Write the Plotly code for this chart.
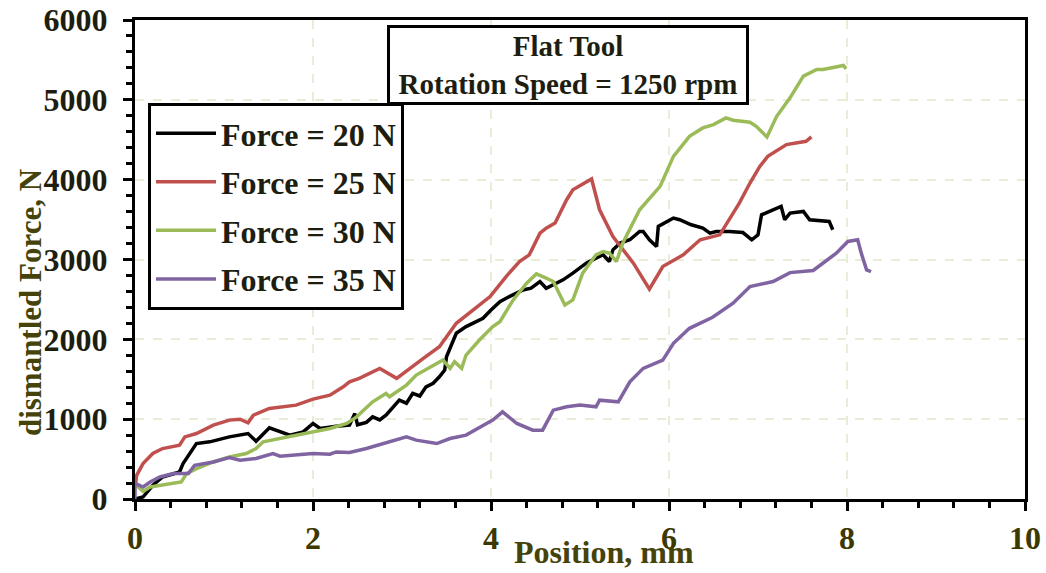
import plotly.graph_objects as go

# ---------------- data ----------------
x_20 = [0, 0.09, 0.2, 0.31, 0.5, 0.54, 0.69, 0.84, 1.06, 1.27, 1.36, 1.51, 1.74, 1.89, 2.0, 2.08,
        2.26, 2.41, 2.47, 2.50, 2.6, 2.67, 2.75, 2.82, 2.97, 3.05, 3.12, 3.20, 3.27, 3.35, 3.42, 3.48,
        3.50, 3.61, 3.72, 3.84, 3.91, 4.0, 4.10, 4.17, 4.25, 4.36, 4.45, 4.55, 4.62, 4.70, 4.81,
        4.92, 5.0, 5.07, 5.18, 5.26, 5.33, 5.37, 5.45, 5.56, 5.67, 5.71, 5.78, 5.86, 5.88, 5.98,
        6.05, 6.12, 6.25, 6.38, 6.46, 6.53, 6.68, 6.83, 6.93, 7.0, 7.04, 7.13, 7.26, 7.30, 7.36,
        7.51, 7.58, 7.80, 7.84]
f_20 = [0, 25, 172, 276, 339, 444, 695, 716, 778, 820, 724, 891, 800, 841, 946, 883,
        912, 925, 1070, 930, 960, 1029, 990, 1050, 1238, 1200, 1322, 1290, 1405, 1450, 1531, 1615,
        1782, 2076, 2159, 2221, 2264, 2368, 2472, 2515, 2556, 2619, 2640, 2724, 2640, 2682, 2745,
        2829, 2891, 2954, 3017, 3059, 2975, 3121, 3205, 3247, 3351, 3351, 3247, 3163, 3414, 3477,
        3519, 3498, 3435, 3393, 3330, 3351, 3351, 3338, 3247, 3309, 3560, 3602, 3665, 3498, 3581,
        3602, 3498, 3477, 3372]

x_25 = [0, 0.02, 0.09, 0.13, 0.2, 0.31, 0.5, 0.56, 0.69, 0.88, 1.06, 1.18, 1.27, 1.33, 1.51,
        1.81, 2.0, 2.19, 2.34, 2.41, 2.52, 2.75, 2.94, 3.24, 3.42, 3.61, 3.80, 3.99, 4.17, 4.32,
        4.43, 4.55, 4.62, 4.72, 4.85, 4.92, 5.13, 5.22, 5.37, 5.60, 5.78, 5.93, 6.16, 6.35, 6.57,
        6.79, 6.91, 7.02, 7.11, 7.32, 7.54, 7.60]
f_25 = [150, 300, 444, 486, 570, 632, 674, 778, 820, 925, 988, 1000, 954, 1050, 1134,
        1176, 1251, 1301, 1405, 1468, 1511, 1636, 1511, 1762, 1908, 2201, 2368, 2535, 2786, 2974,
        3058, 3330, 3393, 3456, 3749, 3874, 4008, 3623, 3288, 2954, 2628, 2912, 3058, 3247, 3309,
        3707, 3958, 4166, 4292, 4439, 4480, 4535]

x_30 = [0, 0.09, 0.17, 0.31, 0.52, 0.58, 0.69, 0.88, 1.06, 1.25, 1.36, 1.44, 1.63, 1.93, 2.19,
        2.38, 2.49, 2.67, 2.82, 2.86, 3.05, 3.16, 3.42, 3.46, 3.54, 3.59, 3.67, 3.72, 3.87, 4.02,
        4.10, 4.25, 4.40, 4.51, 4.62, 4.70, 4.83, 4.92, 5.03, 5.18, 5.26, 5.33, 5.41, 5.48, 5.67,
        5.90, 6.05, 6.23, 6.38, 6.50, 6.64, 6.72, 6.91, 6.98, 7.10, 7.21, 7.36, 7.51, 7.66, 7.73,
        7.96, 7.99]
f_30 = [190, 95, 150, 172, 213, 318, 381, 464, 527, 570, 632, 716, 758, 820, 883,
        946, 1029, 1217, 1322, 1280, 1427, 1552, 1719, 1741, 1636, 1719, 1636, 1803, 1991, 2159,
        2221, 2494, 2703, 2820, 2766, 2724, 2431, 2494, 2829, 3059, 3100, 3080, 2975, 3205, 3623,
        3916, 4292, 4543, 4648, 4690, 4774, 4744, 4719, 4669, 4535, 4794, 5025, 5296, 5380, 5380,
        5430, 5389]

x_35 = [0, 0.0, 0.09, 0.17, 0.28, 0.43, 0.6, 0.67, 0.88, 1.06, 1.18, 1.36, 1.55, 1.63, 2.0,
        2.19, 2.26, 2.41, 2.6, 2.79, 2.97, 3.05, 3.16, 3.39, 3.54, 3.72, 3.95, 4.02, 4.13, 4.29,
        4.47, 4.58, 4.70, 4.85, 5.0, 5.18, 5.22, 5.43, 5.56, 5.71, 5.93, 6.05, 6.23, 6.49, 6.72,
        6.91, 7.17, 7.36, 7.62, 7.73, 7.88, 8.01, 8.12, 8.16, 8.22, 8.27]
f_35 = [0, 197, 150, 213, 276, 318, 318, 423, 464, 520, 486, 507, 570, 536, 570,
        561, 590, 582, 632, 695, 758, 778, 737, 695, 758, 800, 946, 988, 1092, 946,
        862, 862, 1113, 1155, 1176, 1155, 1238, 1217, 1468, 1636, 1740, 1950, 2138, 2276, 2452,
        2661, 2724, 2836, 2862, 2954, 3080, 3226, 3247, 3080, 2870, 2849]

series_names = ["Force = 20 N", "Force = 25 N", "Force = 30 N", "Force = 35 N"]
series_colors = ["#000000", "#c0504d", "#9bbb59", "#8064a2"]
series_x = [x_20, x_25, x_30, x_35]
series_y = [f_20, f_25, f_30, f_35]

x_ticks = [0, 2, 4, 6, 8, 10]
y_ticks = [0, 1000, 2000, 3000, 4000, 5000, 6000]

title_lines = ["Flat Tool", "Rotation Speed = 1250 rpm"]
x_title = "Position, mm"
y_title = "dismantled Force, N"

# ---------------- figure ----------------
FONT = "Liberation Serif, Times New Roman, serif"
fig = go.Figure()
for i, (name, col, xs, ys) in enumerate(zip(series_names, series_colors, series_x, series_y)):
    fig.add_trace(go.Scatter(x=xs, y=ys, mode="lines", name=name, legendgroup=f"g{i}",
                             line=dict(color=col, width=3.5)))

axis_common = dict(showline=True, linecolor="black", linewidth=3, mirror=True,
                   ticks="outside", tickwidth=3, tickcolor="black", ticklen=9,
                   showgrid=True, gridcolor="#e9ecd6", gridwidth=2, griddash="dash",
                   zeroline=False, automargin=False)

fig.update_xaxes(range=[0, 10], tickvals=x_ticks, ticktext=[str(v) for v in x_ticks],
                 tickfont=dict(family=FONT, size=32, color="#3b3800", weight="bold"),
                 minor=dict(ticks="outside", dtick=0.4, tick0=0, ticklen=6, tickwidth=3,
                            tickcolor="black", showgrid=False),
                 ticklabelstandoff=0, **axis_common)
fig.update_yaxes(range=[0, 6000], tickvals=y_ticks, ticktext=[str(v) for v in y_ticks],
                 tickfont=dict(family=FONT, size=32, color="#1e1e10", weight="bold"),
                 minor=dict(ticks="outside", dtick=200, tick0=0, ticklen=6, tickwidth=3,
                            tickcolor="black", showgrid=False),
                 ticklabelstandoff=9, **axis_common)

fig.add_annotation(xref="paper", yref="paper", x=0.4865, y=0.906, xanchor="center",
                   yanchor="middle", text="<br>".join(title_lines), showarrow=False,
                   font=dict(family=FONT, size=29, color="#1e1e10", weight="bold"),
                   bordercolor="black", borderwidth=3, bgcolor="white", width=354, height=72,
                   align="center")

fig.add_annotation(xref="paper", yref="paper", x=0.527, y=-0.11, xanchor="center",
                   yanchor="middle", text=x_title, showarrow=False,
                   font=dict(family=FONT, size=32, color="#45430a", weight="bold"))
fig.add_annotation(xref="paper", yref="paper", x=-0.118, y=0.411, xanchor="center",
                   yanchor="middle", text=y_title, showarrow=False, textangle=-90,
                   font=dict(family=FONT, size=31, color="#45430a", weight="bold"))

fig.update_layout(width=1046, height=573, margin=dict(l=135, r=21, t=20, b=74),
                  paper_bgcolor="white", plot_bgcolor="white",
                  showlegend=True,
                  legend=dict(x=0.0146, y=0.827, xanchor="left", yanchor="top",
                              bordercolor="black", borderwidth=3, bgcolor="white",
                              font=dict(family=FONT, size=32, color="#1e1e10", weight="bold"),
                              tracegroupgap=4, itemwidth=60))

fig.write_html("out.html")
